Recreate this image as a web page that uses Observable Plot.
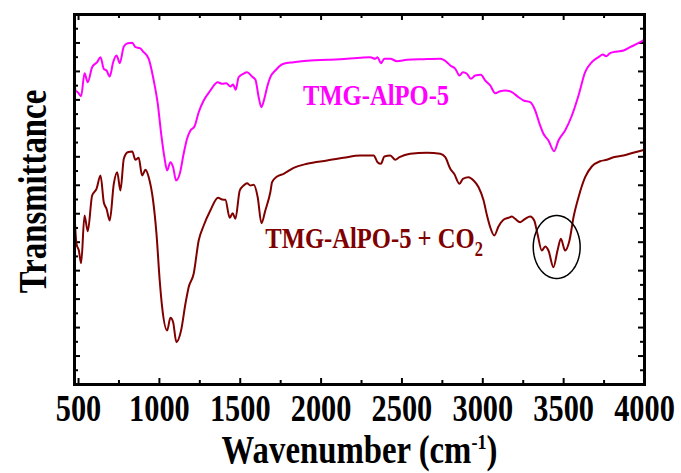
<!DOCTYPE html>
<html><head><meta charset="utf-8">
<script src="https://cdn.jsdelivr.net/npm/d3@7"></script>
<script src="https://cdn.jsdelivr.net/npm/@observablehq/plot@0.6"></script>
<style>body{margin:0;background:#fff} svg{display:block}</style>
</head><body><div id="chart"></div>
<script>
// TMG-AlPO-5 (magenta)
const magentaWn = [475,481,495,516,537,557,584,615,636,656,673,693,714,735,755,780,804,832,852,879,903,934,965,990,1011,1031,1048,1068,1085,1103,1126,1150,1171,1192,1217,1243,1274,1315,1361,1388,1414,1439,1456,1472,1490,1518,1542,1573,1594,1614,1631,1649,1666,1686,1717,1768,1830,1933,2037,2160,2242,2304,2335,2349,2370,2391,2428,2469,2531,2634,2737,2778,2799,2830,2856,2877,2902,2927,2953,2988,3015,3046,3077,3108,3139,3180,3221,3252,3293,3324,3351,3375,3406,3441,3468,3509,3551,3592,3633,3674,3715,3742,3763,3787,3829,3870,3911,3962,3998];
const magentaT = [307.3,294,292.3,288.3,311.3,302.3,317.3,322.3,327.3,315.7,314,308,322.3,329,321.3,338,341.3,341.7,337.3,336.3,332.3,325.7,304,280.7,250.7,227.3,214,222.3,217.3,204,210.7,230.7,245.7,254,258,272.3,284,294,302.3,300.7,301.3,298,300,294.7,307.3,310.7,312.3,308,304.7,287.3,277.3,285.7,297.3,307.3,314,320.7,322.3,324,324.7,325.7,326.7,327.3,325.7,327.3,321.3,325.7,325.7,323.3,324.7,325.3,325.7,322.3,319,315.7,309,312.3,310.7,305.7,309,309.7,304,299,291.3,293.3,294,292.3,287.3,284,282.3,274,260.7,250.7,244,233.3,244,254,269,289,312.3,322.3,327.3,330,328.3,331.3,333,334,337.3,341.3,344.7];

// TMG-AlPO-5 + CO2 (brown)
const brownWn = [475,487,502,516,537,557,584,611,636,656,673,693,718,739,759,780,804,832,852,872,893,914,934,961,982,1002,1017,1048,1068,1085,1105,1134,1161,1181,1212,1243,1274,1315,1363,1388,1408,1435,1453,1470,1497,1521,1542,1563,1583,1608,1631,1655,1686,1697,1728,1768,1830,1913,2037,2139,2242,2325,2349,2370,2391,2428,2459,2485,2551,2655,2737,2768,2799,2823,2856,2877,2912,2943,2974,3005,3026,3046,3071,3097,3128,3159,3180,3200,3231,3262,3293,3318,3338,3365,3386,3406,3437,3462,3483,3509,3536,3561,3592,3633,3674,3726,3767,3808,3870,3942,4000];
const brownT = [172.3,140.7,134,121.3,169,153.3,189,195.7,209,182.3,175.7,164,200.7,212.3,194,225.7,232.3,233,224.7,226.7,209,214.7,207.3,184,150.7,104,77.3,54,66.7,62.3,42.3,54,80.7,97.3,110.7,144,159,174,186.7,185,184.7,166.7,171.3,165.7,194,199,201.3,199,199.7,187.3,161.3,174,192.3,202.3,208,210.7,216.7,220.7,224,226.7,229,229,222.3,220.7,228,229,224.7,227.3,230.7,231.7,230.7,227.3,215.7,210.7,200.7,205.7,207.3,204,197.3,184,169,157.3,149,158,164.7,166.7,168,165.7,162.3,165.7,168,164,150.7,134,138,134,117.3,134,145.7,134,144,167.3,187.3,207.3,218,223.3,224.7,227.3,229,232.3,234.7];

// Axis ticks and labels
const xMajorTicks = [500,1000,1500,2000,2500,3000,3500,4000];
const xMinorTicks = [750,1250,1750,2250,2750,3250,3750];
const yTickCount = 26;

// Annotations
const seriesLabels = ["TMG-AlPO-5", "TMG-AlPO-5 + CO2"];
const labelPos = [[2340, 280], [1655, 137]];
const xTitle = "Wavenumber (cm-1)";
const yTitle = "Transmittance";
const ellipseCenter = [3457, 137.5];
const ellipseRadii = [145, 31.5];

const MAGENTA = "#ff00ff", BROWN = "#800000";
const W = 681, H = 473, mL = 74, mR = 37, mT = 14, mB = 89;
const plotW = W - mL - mR, plotH = H - mT - mB;

const yTicks = d3.range(yTickCount + 1).map(i => i * 370 / yTickCount);
const yMajor = yTicks.filter((d, i) => i % 2 === 0);
const yMinor = yTicks.filter((d, i) => i % 2 === 1);

const ellipsePts = d3.range(0, 361, 4).map(a => {
  const r = a * Math.PI / 180;
  return [ellipseCenter[0] + ellipseRadii[0] * Math.cos(r), ellipseCenter[1] + ellipseRadii[1] * Math.sin(r)];
});

const svg = Plot.plot({
  width: W, height: H,
  marginLeft: mL, marginRight: mR, marginTop: mT, marginBottom: mB,
  style: {fontFamily: "'Liberation Serif', 'Times New Roman', serif", background: "white", overflow: "visible"},
  x: {domain: [475, 4000], axis: null},
  y: {domain: [0, 370], axis: null},
  marks: [
    // ticks (inward)
    Plot.tickX(xMajorTicks, {x: d => d, insetTop: plotH - 6, stroke: "black", strokeWidth: 2}),
    Plot.tickX(xMinorTicks, {x: d => d, insetTop: plotH - 4, stroke: "black", strokeWidth: 2}),
    Plot.tickX(xMajorTicks, {x: d => d, insetBottom: plotH - 6, stroke: "black", strokeWidth: 2}),
    Plot.tickX(xMinorTicks, {x: d => d, insetBottom: plotH - 4, stroke: "black", strokeWidth: 2}),
    Plot.tickY(yMajor, {y: d => d, insetRight: plotW - 6, stroke: "black", strokeWidth: 2}),
    Plot.tickY(yMinor, {y: d => d, insetRight: plotW - 4, stroke: "black", strokeWidth: 2}),
    Plot.tickY(yMajor, {y: d => d, insetLeft: plotW - 6, stroke: "black", strokeWidth: 2}),
    Plot.tickY(yMinor, {y: d => d, insetLeft: plotW - 4, stroke: "black", strokeWidth: 2}),
    // spectra
    Plot.line(magentaT, {x: (d, i) => magentaWn[i], y: d => d, stroke: MAGENTA, strokeWidth: 2, curve: "monotone-x"}),
    Plot.line(brownT, {x: (d, i) => brownWn[i], y: d => d, stroke: BROWN, strokeWidth: 2, curve: "monotone-x"}),
    // ellipse annotation
    Plot.line(ellipsePts, {x: d => d[0], y: d => d[1], stroke: "black", strokeWidth: 1.5, curve: "linear"}),
    Plot.frame({stroke: "black", strokeWidth: 3}),
    // series labels
    Plot.text([0], {x: () => labelPos[0][0], y: () => labelPos[0][1], text: () => seriesLabels[0], fill: MAGENTA, fontSize: 30, fontWeight: "bold", textAnchor: "middle", lineAnchor: "bottom"}),
    Plot.text([1], {x: () => labelPos[1][0], y: () => labelPos[1][1], text: () => seriesLabels[1], fill: BROWN, fontSize: 30, fontWeight: "bold", textAnchor: "start", lineAnchor: "bottom"}),
    // tick labels
    Plot.text(xMajorTicks, {x: d => d, frameAnchor: "bottom", dy: 36, lineAnchor: "bottom", textAnchor: "middle", text: d => String(d), fontSize: 37, fontWeight: "bold", fill: "black"}),
    // axis titles
    Plot.text([xTitle], {frameAnchor: "bottom", dy: 78, lineAnchor: "bottom", textAnchor: "middle", text: d => d, fontSize: 40, fontWeight: "bold", fill: "black"}),
    Plot.text([yTitle], {frameAnchor: "left", dx: -29, dy: -8, rotate: -90, lineAnchor: "bottom", textAnchor: "middle", text: d => d, fontSize: 40, fontWeight: "bold", fill: "black"})
  ]
});

// sub/superscripts and condensed lettering
const NS = "http://www.w3.org/2000/svg";
svg.querySelectorAll("text").forEach(el => {
  const t = el.textContent;
  if (t === "TMG-AlPO-5 + CO2") {
    el.textContent = "TMG-AlPO-5 + CO";
    const s = document.createElementNS(NS, "tspan");
    s.setAttribute("dy", "8"); s.setAttribute("font-size", "20"); s.textContent = "2";
    el.appendChild(s);
  } else if (t === "Wavenumber (cm-1)") {
    el.textContent = "Wavenumber (cm";
    const s = document.createElementNS(NS, "tspan");
    s.setAttribute("dy", "-14"); s.setAttribute("font-size", "22"); s.textContent = "-1";
    const p = document.createElementNS(NS, "tspan");
    p.setAttribute("dy", "14"); p.textContent = ")";
    el.appendChild(s); el.appendChild(p);
  }
  const tr = el.getAttribute("transform") || "";
  el.setAttribute("transform", (tr + " scale(0.82,1)").trim());
});

document.getElementById("chart").appendChild(svg);
</script>
</body></html>
